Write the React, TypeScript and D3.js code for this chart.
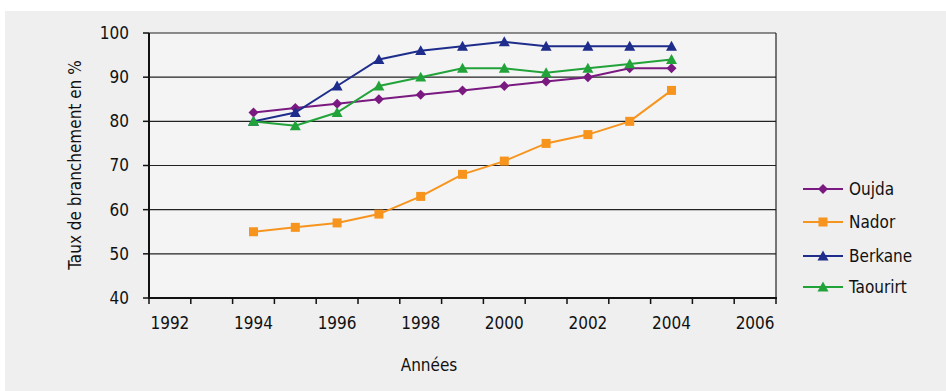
import React from "react";
import * as d3 from "d3";

const years = [1992, 1993, 1994, 1995, 1996, 1997, 1998, 1999, 2000, 2001, 2002, 2003, 2004, 2005, 2006];
const labeledYears = [1992, 1994, 1996, 1998, 2000, 2002, 2004, 2006];
const dataYears = [1994, 1995, 1996, 1997, 1998, 1999, 2000, 2001, 2002, 2003, 2004];
const oujda = [82, 83, 84, 85, 86, 87, 88, 89, 90, 92, 92];
const nador = [55, 56, 57, 59, 63, 68, 71, 75, 77, 80, 87];
const berkane = [80, 82, 88, 94, 96, 97, 98, 97, 97, 97, 97];
const taourirt = [80, 79, 82, 88, 90, 92, 92, 91, 92, 93, 94];
const yTicks = [40, 50, 60, 70, 80, 90, 100];

const seriesNames = ["Oujda", "Nador", "Berkane", "Taourirt"];
const seriesValues = [oujda, nador, berkane, taourirt];
const seriesColors = ["#7a1a80", "#f7941d", "#1e2d8c", "#22a33a"];
const seriesMarkers = ["diamond", "square", "triangle", "triangle"];

const FONT = "'Liberation Sans Narrow', 'DejaVu Sans Condensed', 'Arial Narrow', sans-serif";

function Marker({ type, x, y, color }: { type: string; x: number; y: number; color: string }) {
  if (type === "diamond") {
    const s = 5;
    return <path d={`M${x},${y - s}L${x + s},${y}L${x},${y + s}L${x - s},${y}Z`} fill={color} />;
  }
  if (type === "square") {
    const s = 4.5;
    return <rect x={x - s} y={y - s} width={2 * s} height={2 * s} fill={color} />;
  }
  const s = 5.5;
  return <path d={`M${x},${y - s}L${x + s},${y + s * 0.8}L${x - s},${y + s * 0.8}Z`} fill={color} />;
}

export default function App() {
  const W = 946, H = 391;
  const x = d3.scaleBand<string>().domain(years.map(String)).range([149, 776]).padding(0);
  const bw = x.bandwidth();
  const cx = (yr: number) => (x(String(yr)) as number) + bw / 2;
  const y = d3.scaleLinear().domain([40, 100]).range([298, 33]);
  const line = d3.line<[number, number]>().x((d) => cx(d[0])).y((d) => y(d[1]));

  const tickXs = years.map((yr) => x(String(yr)) as number).concat([776]);

  return (
    <svg width={W} height={H} style={{ position: "absolute", left: 0, top: 0 }} fontFamily={FONT}>
      <rect x={0} y={0} width={W} height={H} fill="#ffffff" />
      <rect x={5} y={11} width={W - 5} height={H - 11} fill="#efefef" />
      <rect x={149} y={33} width={627} height={265} fill="#f4f4f4" />
      {yTicks.map((t) => (
        <line key={t} x1={149} x2={776} y1={y(t)} y2={y(t)} stroke="#222" strokeWidth={1.2} />
      ))}
      <line x1={776} x2={776} y1={33} y2={298} stroke="#222" strokeWidth={1.2} />
      <line x1={149} x2={149} y1={33} y2={299} stroke="#111" strokeWidth={2} />
      <line x1={148} x2={777} y1={298} y2={298} stroke="#111" strokeWidth={2} />
      {yTicks.map((t) => (
        <g key={"yt" + t}>
          <line x1={143} x2={149} y1={y(t)} y2={y(t)} stroke="#111" strokeWidth={1.5} />
          <text x={129} y={y(t)} dy="0.35em" textAnchor="end" fontSize={17} fill="#111">{t}</text>
        </g>
      ))}
      {tickXs.map((tx, i) => (
        <line key={"xt" + i} x1={tx} x2={tx} y1={298} y2={304} stroke="#111" strokeWidth={1.5} />
      ))}
      {labeledYears.map((yr) => (
        <text key={"xl" + yr} x={cx(yr)} y={329} textAnchor="middle" fontSize={17} fill="#111">{yr}</text>
      ))}
      <text x={429} y={371} textAnchor="middle" fontSize={17} fill="#111">Années</text>
      <text transform={`translate(81,165) rotate(-90)`} textAnchor="middle" fontSize={17} fill="#111">Taux de branchement en %</text>
      {seriesValues.map((vals, si) => {
        const pts = dataYears.map((yr, i) => [yr, vals[i]] as [number, number]);
        return (
          <g key={seriesNames[si]}>
            <path d={line(pts) || ""} fill="none" stroke={seriesColors[si]} strokeWidth={2} />
            {pts.map((p, i) => (
              <Marker key={i} type={seriesMarkers[si]} x={cx(p[0])} y={y(p[1])} color={seriesColors[si]} />
            ))}
          </g>
        );
      })}
      {seriesNames.map((name, i) => {
        const ly = [189, 222, 256, 287][i];
        return (
          <g key={"lg" + name}>
            <line x1={803} x2={843} y1={ly} y2={ly} stroke={seriesColors[i]} strokeWidth={2} />
            <Marker type={seriesMarkers[i]} x={823} y={ly} color={seriesColors[i]} />
            <text x={849} y={ly} dy="0.35em" fontSize={17} fill="#111">{name}</text>
          </g>
        );
      })}
    </svg>
  );
}
